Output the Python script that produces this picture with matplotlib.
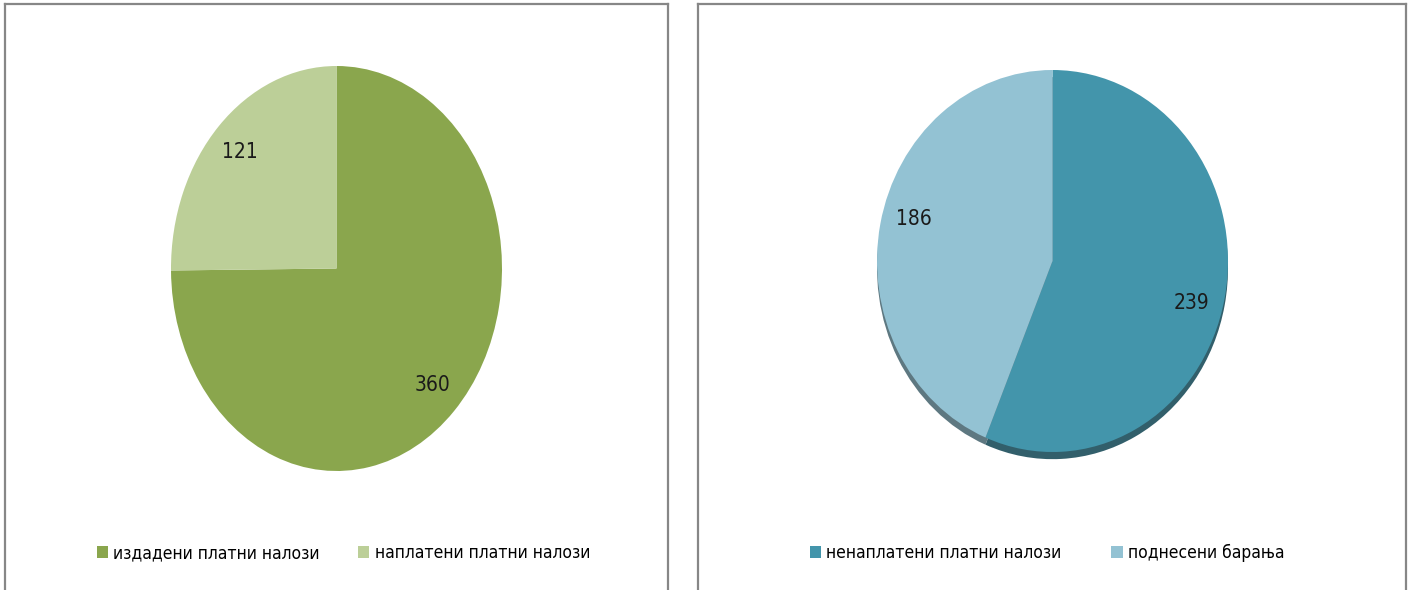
import matplotlib
matplotlib.use("Agg")
import numpy as np
import matplotlib.pyplot as plt

# ---- data ----
left_labels = ["издадени платни налози", "наплатени платни налози"]
left_values = [360, 121]
left_colors = ["#8aa64d", "#bccf98"]

right_labels = ["ненаплатени платни налози", "поднесени барања"]
right_values = [239, 186]
right_colors = ["#4395ab", "#93c2d3"]

W, H = 1412, 590
plt.rcParams['font.family'] = ['DejaVu Sans Condensed', 'DejaVu Sans']
plt.rcParams['font.stretch'] = 'condensed'

fig = plt.figure(figsize=(W / 100, H / 100), dpi=100)
fig.patch.set_facecolor("white")


def px_axes(x0, y0, x1, y1, **kw):
    return fig.add_axes([x0 / W, 1 - y1 / H, (x1 - x0) / W, (y1 - y0) / H], **kw)


# panel frames
for (x0, x1) in [(5, 668), (698, 1406)]:
    fr = px_axes(x0, 4, x1, 640)
    fr.set_xticks([])
    fr.set_yticks([])
    fr.patch.set_alpha(0)
    for s in fr.spines.values():
        s.set_color("#878787")
        s.set_linewidth(1.6)


def draw_pie(box, values, colors, labels, legend_anchor, colspacing,
             shadow=False, label_rot=0.0):
    ax = px_axes(*box)
    kw = {}
    if shadow:
        kw["shadow"] = {"ox": 0, "oy": -0.027, "shade": 0.42, "alpha": 0.95,
                        "clip_on": False}
    wedges, texts, autotexts = ax.pie(
        values, colors=colors, startangle=90, counterclock=False,
        autopct=lambda p, v=values: f"{round(p * sum(v) / 100):d}",
        pctdistance=0.82, radius=1,
        wedgeprops={"linewidth": 0},
        textprops={"fontsize": 15, "color": "#1a1a1a"}, **kw)
    if label_rot:
        r = np.deg2rad(label_rot)
        for t in autotexts:
            x, y = t.get_position()
            t.set_position((x * np.cos(r) - y * np.sin(r),
                            x * np.sin(r) + y * np.cos(r)))
    ax.set_aspect("auto")
    ax.set_xlim(-1, 1)
    ax.set_ylim(-1, 1)
    ax.axis("off")
    fig.legend(wedges, labels, loc="center left",
               bbox_to_anchor=(legend_anchor[0] / W, 1 - legend_anchor[1] / H),
               ncol=2, frameon=False, fontsize=12.5,
               handlelength=0.65, handleheight=0.65, handletextpad=0.3,
               columnspacing=colspacing, borderaxespad=0, borderpad=0)
    return ax


draw_pie((171, 66, 502, 471), left_values, left_colors, left_labels,
         (97, 553), 2.2, label_rot=0.0)
draw_pie((877, 70, 1228, 452), right_values, right_colors, right_labels,
         (810, 553), 2.85, shadow=True, label_rot=-4.5)

fig.savefig("out.png", dpi=100, facecolor="white")
